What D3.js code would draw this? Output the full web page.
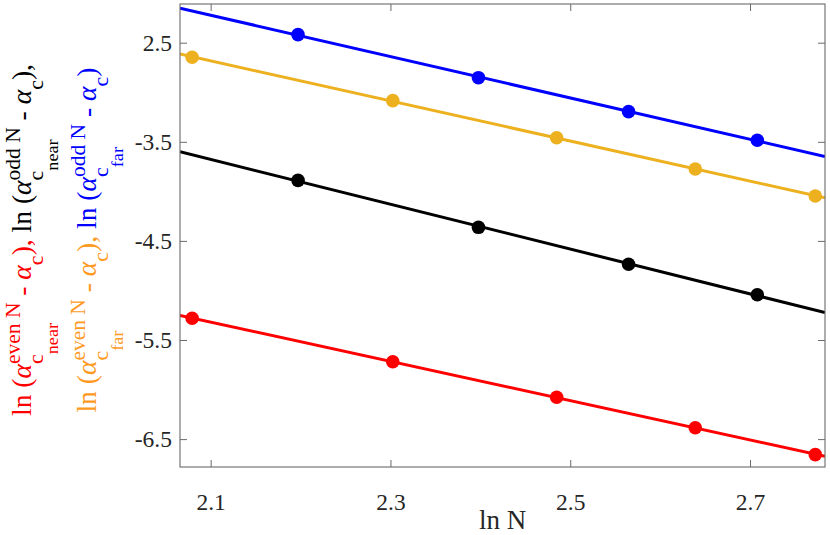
<!DOCTYPE html>
<html>
<head>
<meta charset="utf-8">
<script src="https://cdn.jsdelivr.net/npm/d3@7"></script>
<style>
  body { margin: 0; background: #fff; }
  svg { display: block; }
  text { font-family: "Liberation Serif", "Times New Roman", serif; white-space: pre; }
</style>
</head>
<body>
<svg></svg>
<script>
// ln N for even and odd system sizes
const lnNEven = [2.0794, 2.3026, 2.4849, 2.6391, 2.7726];
const lnNOdd = [2.1972, 2.3979, 2.5649, 2.7081];

// series values
const evenNear = [-5.281, -5.719, -6.078, -6.385, -6.657];
const evenFar = [-2.647, -3.085, -3.459, -3.774, -4.047];
const oddNear = [-3.889, -4.363, -4.736, -5.043];
const oddFar = [-2.419, -2.853, -3.196, -3.485];

const xTicks = [2.1, 2.3, 2.5, 2.7];
const xTickLabels = ["2.1", "2.3", "2.5", "2.7"];
const yTicks = [-2.5, -3.5, -4.5, -5.5, -6.5];
const yTickLabels = ["2.5", "-3.5", "-4.5", "-5.5", "-6.5"];

const width = 830;
const height = 535;
const box = { left: 180, right: 825, top: 4, bottom: 467 };

const red = "#ff0000";
const yellow = "#edb120";
const blue = "#0000ff";
const black = "#000000";
const orange = "#ff9a1f";
const textColor = "#262626";
const boxColor = "#6a6a6a";

const xScale = d3.scaleLinear()
    .domain([2.0659, 2.7834])
    .range([box.left, box.right]);

const yScale = d3.scaleLinear()
    .domain([-6.7815, -2.1095])
    .range([box.bottom, box.top]);

const svg = d3.select("svg")
    .attr("width", width)
    .attr("height", height);

svg.append("defs").append("clipPath")
    .attr("id", "plot-clip")
    .append("rect")
    .attr("x", box.left)
    .attr("y", box.top)
    .attr("width", box.right - box.left)
    .attr("height", box.bottom - box.top);

// least squares straight line through a series
const linFit = (xs, ys) => {
    const mx = d3.mean(xs), my = d3.mean(ys);
    const slope = d3.sum(xs, (x, i) => (x - mx) * (ys[i] - my)) / d3.sum(xs, x => (x - mx) ** 2);
    return x => my + slope * (x - mx);
};

const series = [
    { xs: lnNEven, ys: evenNear, color: red },
    { xs: lnNOdd, ys: oddNear, color: black },
    { xs: lnNEven, ys: evenFar, color: yellow },
    { xs: lnNOdd, ys: oddFar, color: blue }
];

const line = d3.line()
    .x(d => xScale(d[0]))
    .y(d => yScale(d[1]));

const plot = svg.append("g");

series.forEach(s => {
    const f = linFit(s.xs, s.ys);
    const ends = xScale.domain().map(x => [x, f(x)]);

    plot.append("path")
        .datum(ends)
        .attr("clip-path", "url(#plot-clip)")
        .attr("fill", "none")
        .attr("stroke", s.color)
        .attr("stroke-width", 3)
        .attr("d", line);

    plot.selectAll(null)
        .data(s.xs.map((x, i) => [x, s.ys[i]]))
        .enter()
        .append("circle")
        .attr("cx", d => xScale(d[0]))
        .attr("cy", d => yScale(d[1]))
        .attr("r", 6.8)
        .attr("fill", s.color);
});

// axes: ticks point inward on all four sides
const tickFont = 23.5;

const styleAxis = (g) => {
    g.select(".domain").remove();
    g.selectAll(".tick line").attr("stroke", boxColor);
    g.selectAll(".tick text")
        .attr("fill", textColor)
        .attr("font-size", tickFont);
};

svg.append("g")
    .attr("transform", `translate(0, ${box.bottom})`)
    .call(d3.axisBottom(xScale).tickValues(xTicks)
        .tickFormat((d, i) => xTickLabels[i])
        .tickSizeInner(-7).tickSizeOuter(0).tickPadding(26.5))
    .call(styleAxis);

svg.append("g")
    .attr("transform", `translate(0, ${box.top})`)
    .call(d3.axisTop(xScale).tickValues(xTicks)
        .tickFormat("").tickSizeInner(-7).tickSizeOuter(0))
    .call(styleAxis);

svg.append("g")
    .attr("transform", `translate(${box.left}, 0)`)
    .call(d3.axisLeft(yScale).tickValues(yTicks)
        .tickFormat((d, i) => yTickLabels[i])
        .tickSizeInner(-7).tickSizeOuter(0).tickPadding(8))
    .call(styleAxis);

svg.append("g")
    .attr("transform", `translate(${box.right}, 0)`)
    .call(d3.axisRight(yScale).tickValues(yTicks)
        .tickFormat("").tickSizeInner(-7).tickSizeOuter(0))
    .call(styleAxis);

svg.append("rect")
    .attr("x", box.left)
    .attr("y", box.top)
    .attr("width", box.right - box.left)
    .attr("height", box.bottom - box.top)
    .attr("fill", "none")
    .attr("stroke", boxColor)
    .attr("stroke-width", 1.1);

// x label
svg.append("text")
    .attr("x", (box.left + box.right) / 2)
    .attr("y", 529)
    .attr("text-anchor", "middle")
    .attr("font-size", 27)
    .attr("fill", textColor)
    .text("ln N");

// y label: two rotated lines with sub/superscripts
const labelFont = 26.5;
const labelStretch = 1.04;

const scripted = (color, sub, subsub, sup) => ({ color, sub, subsub, sup });
const plain = (color, t, italic) => ({ color, t, italic });

const labelPart = (color, near, sup, last) => [
    plain(color, "ln ("), plain(color, "α", true),
    scripted(color, "c", near, sup),
    plain(color, " - "), plain(color, "α", true),
    scripted(color, "c"),
    plain(color, last)
];

const labelLines = [
    { baseline: 31, pieces: [...labelPart(red, "near", "even N", "), "), ...labelPart(black, "near", "odd N", "),")] },
    { baseline: 96, pieces: [...labelPart(orange, "far", "even N", "), "), ...labelPart(blue, "far", "odd N", ")")] }
];

const drawRich = (parent, pieces, F) => {
    let x = 0;
    const put = (t, px, py, size, color, italic) => {
        const el = parent.append("text")
            .attr("x", px)
            .attr("y", py)
            .attr("font-size", size)
            .attr("fill", color)
            .attr("font-style", italic ? "italic" : "normal")
            .text(t);
        return el.node().getComputedTextLength();
    };
    pieces.forEach(p => {
        if (p.t !== undefined) {
            x += put(p.t, x, 0, F, p.color, p.italic);
        } else {
            let ws = put(p.sub, x, 0.47 * F, 0.8 * F, p.color);
            if (p.subsub) ws += put(p.subsub, x + ws, 1.02 * F, 0.66 * F, p.color);
            let wu = 0;
            if (p.sup) wu = put(p.sup, x, -0.42 * F, 0.78 * F, p.color);
            x += Math.max(ws, wu);
        }
    });
    return x;
};

const labelCenter = 240;

labelLines.forEach(l => {
    const g = svg.append("g");
    const inner = g.append("g");
    const w = drawRich(inner, l.pieces, labelFont) * labelStretch;
    inner.attr("transform", `scale(${labelStretch}, 1)`);
    g.attr("transform", `translate(${l.baseline}, ${labelCenter + w / 2}) rotate(-90)`);
});
</script>
</body>
</html>
